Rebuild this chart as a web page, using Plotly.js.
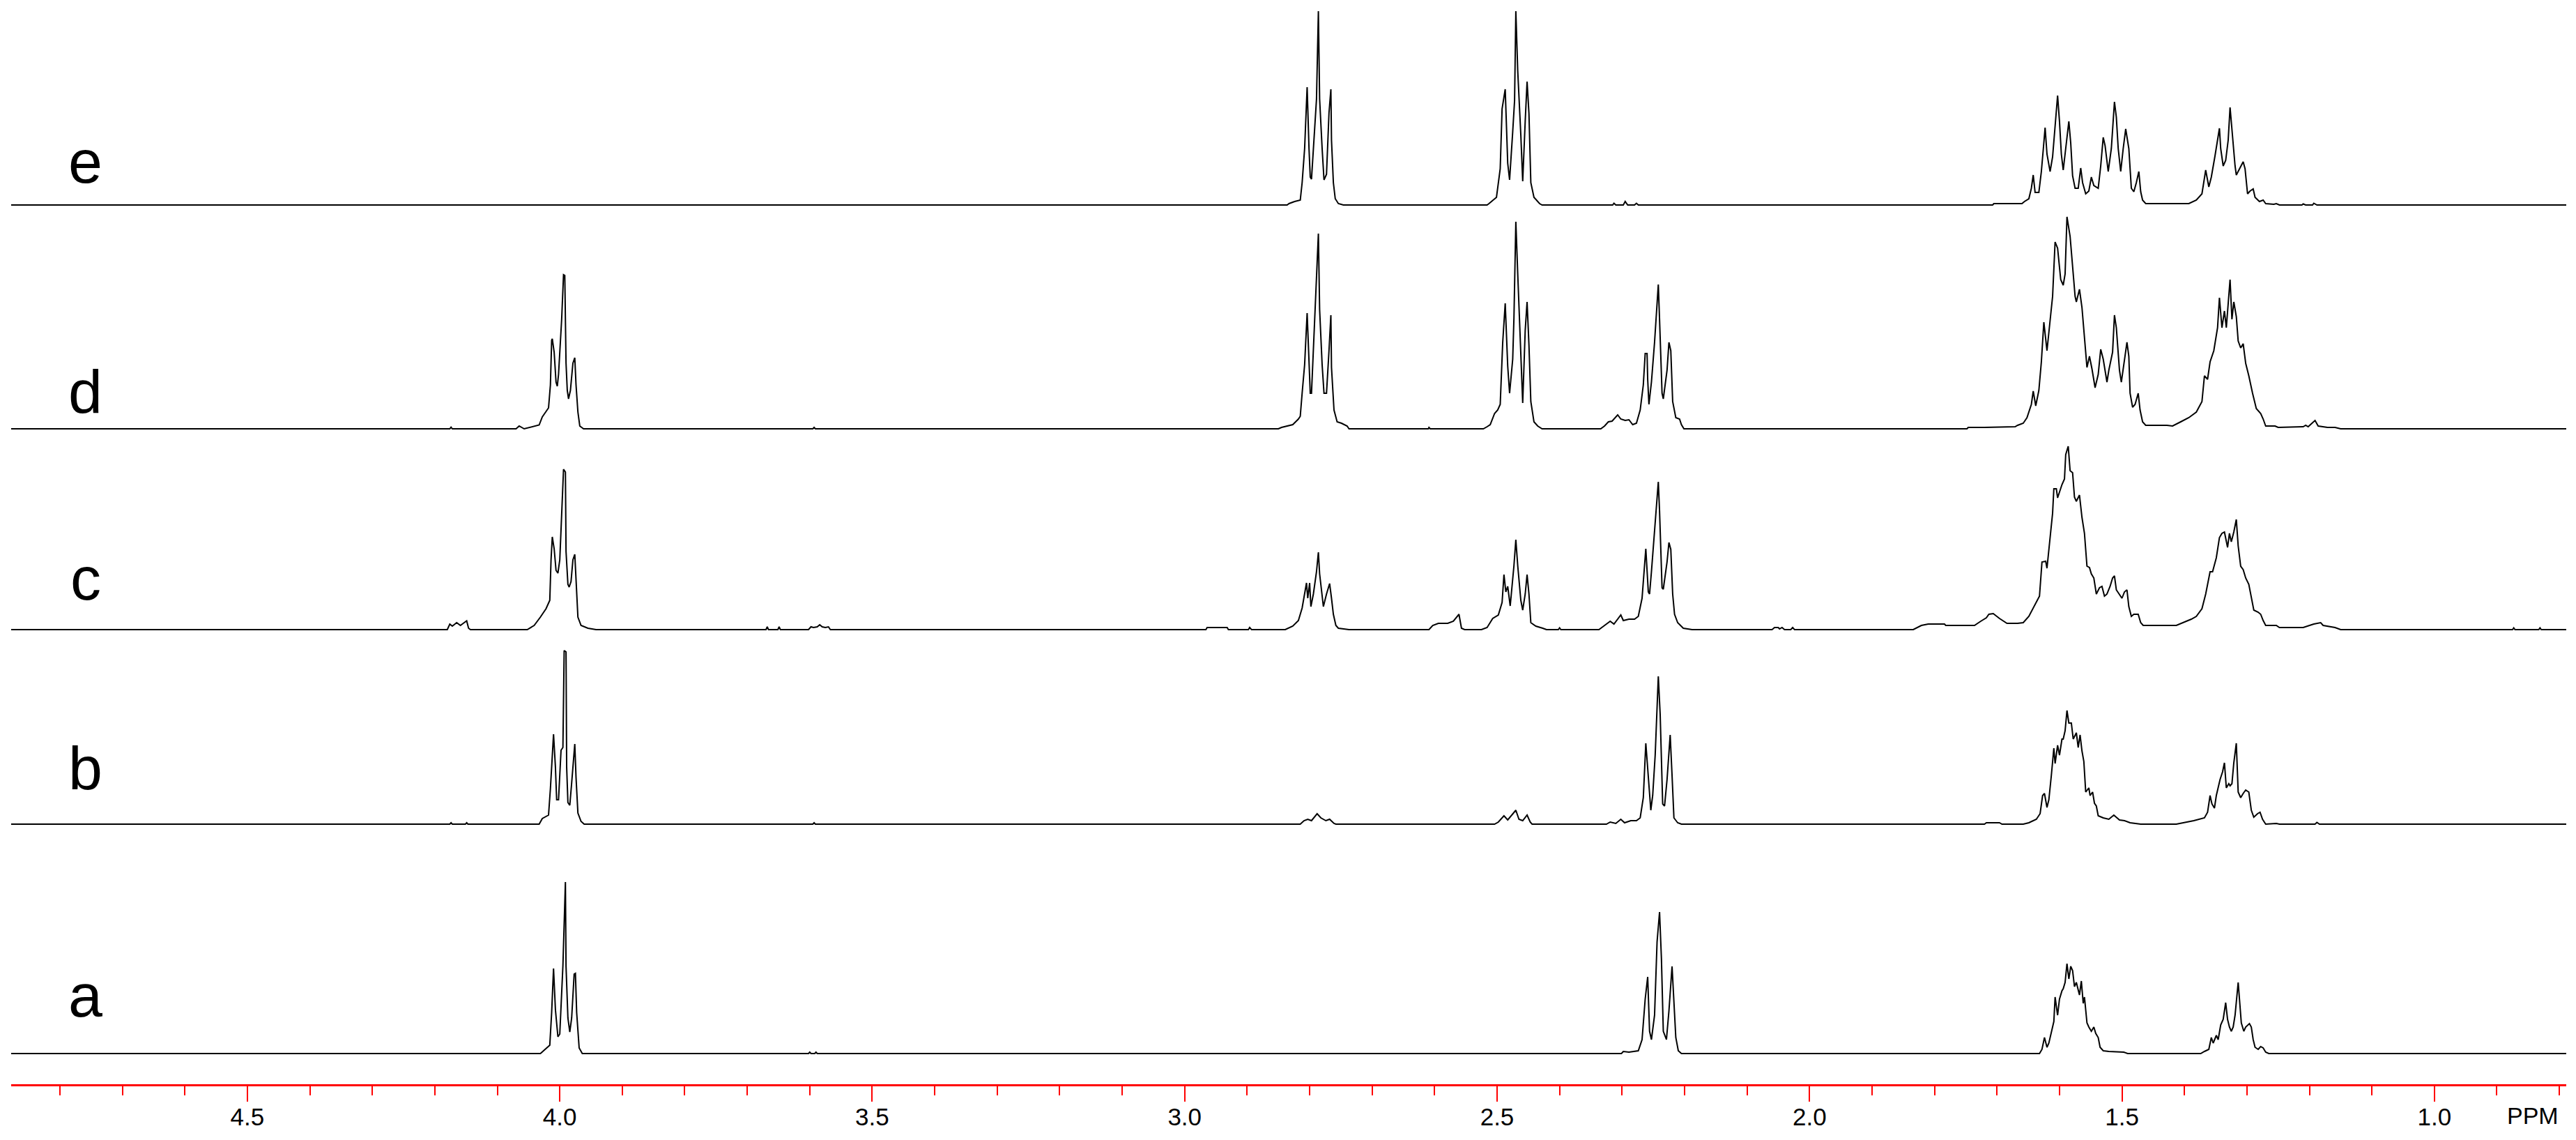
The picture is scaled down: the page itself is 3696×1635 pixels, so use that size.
<!DOCTYPE html>
<html><head><meta charset="utf-8">
<script src="https://cdn.plot.ly/plotly-3.0.1.min.js"></script>
<style>html,body{margin:0;padding:0;background:#fff;} #chart{width:3696px;height:1635px;}</style>
</head><body><div id="chart"></div>
<script>
// [ppm, intensity] pairs
const specE = [[4.878,0],
[2.836,0],[2.833,2],[2.824,5],[2.815,7],[2.812,32],[2.808,81],[2.804,169],[2.801,81],[2.799,40],[2.797,37],[2.794,81],[2.791,130],[2.789,152],[2.786,278],[2.784,152],[2.780,81],[2.777,36],[2.773,44],[2.769,132],[2.766,166],[2.765,93],[2.762,32],[2.759,9],[2.754,2],[2.746,0],
[2.516,0],[2.513,2],[2.501,11],[2.495,52],[2.492,138],[2.487,166],[2.483,60],[2.480,36],[2.475,105],[2.472,150],[2.470,278],[2.467,193],[2.462,100],[2.459,34],[2.455,120],[2.452,177],[2.449,131],[2.446,32],[2.441,11],[2.432,2],[2.428,0],
[2.315,0],[2.313,2.5],[2.310,0],[2.298,0],[2.295,5],[2.291,0],[2.280,0],[2.277,2.5],[2.274,0],
[1.707,0],[1.705,2],[1.660,2],[1.656,5],[1.649,9],[1.645,24],[1.642,43],[1.639,18],[1.633,18],[1.629,48],[1.626,79],[1.623,111],[1.620,73],[1.615,48],[1.611,69],[1.608,102],[1.603,157],[1.600,120],[1.597,73],[1.594,50],[1.591,73],[1.588,102],[1.585,120],[1.582,89],[1.579,42],[1.575,24],[1.570,24],[1.566,53],[1.563,32],[1.558,16],[1.553,20],[1.549,40],[1.545,28],[1.538,24],[1.534,56],[1.530,97],[1.527,85],[1.522,48],[1.517,81],[1.512,148],[1.509,126],[1.506,81],[1.502,48],[1.498,81],[1.494,109],[1.489,81],[1.485,24],[1.481,19],[1.477,32],[1.473,48],[1.470,19],[1.467,7],[1.462,2],
[1.393,2],[1.381,7],[1.372,16],[1.366,50],[1.361,26],[1.357,40],[1.351,71],[1.344,110],[1.342,81],[1.338,56],[1.334,64],[1.330,93],[1.327,140],[1.323,97],[1.319,56],[1.317,43],[1.312,52],[1.306,62],[1.303,52],[1.299,16],[1.295,20],[1.290,23],[1.287,11],[1.280,5],[1.274,7],[1.270,2],[1.257,1],[1.253,2],[1.248,0],
[1.212,0],[1.210,1.5],[1.206,0],[1.195,0],[1.193,2.5],[1.188,0],[0.789,0]];

const specD = [[4.878,0],[4.176,0],[4.174,2.4],[4.172,0],
[4.070,0],[4.065,4],[4.057,0],[4.044,3],[4.033,5.5],[4.028,17],[4.018,30],[4.015,63],[4.013,127],[4.012,129],[4.009,110],[4.006,67],[4.004,61],[4.002,78],[3.999,125],[3.997,157],[3.994,221],[3.992,220],[3.990,94],[3.988,55],[3.986,43],[3.983,55],[3.979,94],[3.976,102],[3.974,63],[3.971,24],[3.968,4],[3.962,0],
[3.595,0],[3.593,2],[3.591,0],
[2.850,0],[2.845,2],[2.827,6],[2.818,14],[2.815,18],[2.812,51],[2.808,92],[2.804,166],[2.801,92],[2.799,51],[2.797,51],[2.794,112],[2.791,171],[2.786,280],[2.784,171],[2.780,92],[2.777,51],[2.773,51],[2.769,112],[2.766,163],[2.765,88],[2.761,27],[2.756,10],[2.749,8],[2.740,4],[2.737,0],
[2.610,0],[2.609,2],[2.607,0],
[2.522,0],[2.516,3],[2.511,6],[2.504,22],[2.499,27],[2.495,35],[2.491,124],[2.487,180],[2.483,90],[2.480,51],[2.475,100],[2.473,160],[2.470,297],[2.467,223],[2.462,100],[2.459,37],[2.455,141],[2.452,182],[2.449,120],[2.446,39],[2.441,10],[2.435,4],[2.428,0],
[2.334,0],[2.328,4],[2.322,10],[2.316,11],[2.307,20],[2.302,14],[2.295,12],[2.289,13],[2.283,6],[2.277,8],[2.271,27],[2.266,63],[2.263,108],[2.260,108],[2.259,71],[2.257,35],[2.253,67],[2.248,124],[2.242,207],[2.240,157],[2.236,51],[2.234,43],[2.228,84],[2.225,124],[2.222,112],[2.219,39],[2.214,16],[2.208,14],[2.205,6],[2.201,0],
[1.748,0],[1.746,2],[1.720,2],[1.671,3],[1.667,5],[1.658,8],[1.652,16],[1.645,35],[1.642,54],[1.638,33],[1.633,55],[1.629,96],[1.625,153],[1.620,112],[1.616,145],[1.611,190],[1.607,268],[1.603,259],[1.598,214],[1.594,206],[1.591,222],[1.588,304],[1.583,276],[1.579,235],[1.575,190],[1.573,182],[1.568,200],[1.564,174],[1.560,133],[1.556,88],[1.552,104],[1.548,86],[1.543,59],[1.538,78],[1.534,114],[1.530,100],[1.524,67],[1.521,84],[1.515,110],[1.512,163],[1.509,145],[1.504,84],[1.501,67],[1.497,92],[1.492,124],[1.489,104],[1.487,51],[1.483,31],[1.479,35],[1.474,51],[1.471,27],[1.467,10],[1.462,5],
[1.428,5],[1.419,4],[1.406,10],[1.393,16],[1.381,24],[1.372,39],[1.368,76],[1.363,71],[1.359,96],[1.353,112],[1.347,145],[1.344,188],[1.340,145],[1.336,169],[1.333,145],[1.327,214],[1.324,157],[1.321,182],[1.317,161],[1.314,126],[1.310,116],[1.306,122],[1.302,94],[1.297,76],[1.291,51],[1.285,29],[1.278,22],[1.274,14],[1.270,4],[1.255,4],[1.250,2],
[1.210,3],[1.206,5],[1.202,3],[1.191,12],[1.186,4],[1.171,2],[1.159,2],[1.150,0],[0.789,0]];

const specC = [[4.878,0],[4.180,0],[4.176,8],[4.172,5],[4.165,10],[4.159,6],[4.153,10],[4.149,12.5],[4.146,2],[4.143,0],
[4.052,0],[4.041,6],[4.031,18],[4.022,30],[4.016,42],[4.014,100],[4.012,133],[4.009,116],[4.006,85],[4.003,81],[4.000,100],[3.997,163],[3.994,230],[3.991,226],[3.990,112],[3.987,65],[3.985,61],[3.982,69],[3.979,100],[3.976,108],[3.974,69],[3.971,18],[3.966,6],[3.955,2],[3.942,0],
[3.670,0],[3.668,4],[3.666,0],[3.651,0],[3.649,4],[3.647,0],
[3.602,0],[3.598,4],[3.594,3],[3.588,4],[3.584,7],[3.580,4],[3.575,3],[3.570,4],[3.567,0],
[2.966,0],[2.964,3],[2.932,3],[2.930,0],[2.898,0],[2.896,3],[2.893,0],
[2.839,0],[2.827,5],[2.818,13],[2.812,31],[2.808,51],[2.805,67],[2.803,45],[2.800,67],[2.798,33],[2.794,51],[2.789,83],[2.786,111],[2.784,80],[2.780,45],[2.778,33],[2.773,51],[2.768,66],[2.765,45],[2.762,22],[2.758,6],[2.754,2],[2.737,0],
[2.609,0],[2.603,6],[2.594,9],[2.579,9],[2.570,12],[2.561,22],[2.557,2],[2.552,0],
[2.525,0],[2.516,3],[2.507,16],[2.498,21],[2.492,39],[2.489,79],[2.486,54],[2.483,62],[2.479,34],[2.473,92],[2.470,129],[2.467,92],[2.462,42],[2.459,28],[2.455,51],[2.452,79],[2.449,51],[2.446,10],[2.438,5],[2.427,2],[2.421,0],[2.402,0],[2.400,2.5],[2.398,0],
[2.337,0],[2.328,6],[2.319,12],[2.313,8],[2.302,21],[2.298,13],[2.289,15],[2.280,15],[2.274,19],[2.268,45],[2.265,86],[2.262,116],[2.258,54],[2.256,51],[2.253,83],[2.248,138],[2.242,212],[2.240,170],[2.236,60],[2.234,58],[2.228,97],[2.225,125],[2.222,115],[2.219,51],[2.216,22],[2.211,10],[2.202,2],[2.188,0],
[2.060,0],[2.056,3],[2.050,3],[2.048,1],[2.044,3],[2.040,0],[2.030,0],[2.027,3],[2.024,0],
[1.834,0],[1.821,6],[1.810,8],[1.784,8],[1.782,6],[1.736,6],[1.726,12],[1.717,17],[1.713,22],[1.706,23],[1.696,16],[1.684,9],[1.667,9],[1.658,10],[1.649,19],[1.641,33],[1.632,48],[1.628,97],[1.622,98],[1.620,88],[1.615,129],[1.611,167],[1.609,202],[1.605,202],[1.603,189],[1.596,208],[1.592,216],[1.590,251],[1.586,263],[1.583,228],[1.579,225],[1.576,190],[1.573,184],[1.568,193],[1.564,161],[1.560,138],[1.556,91],[1.552,89],[1.549,80],[1.545,74],[1.541,51],[1.536,60],[1.532,62],[1.528,48],[1.524,51],[1.519,62],[1.515,74],[1.512,77],[1.509,57],[1.504,51],[1.500,45],[1.496,54],[1.492,57],[1.489,33],[1.485,19],[1.481,22],[1.474,22],[1.470,10],[1.466,6],
[1.413,6],[1.402,10],[1.389,15],[1.381,19],[1.372,30],[1.366,51],[1.359,83],[1.355,83],[1.349,103],[1.344,132],[1.340,138],[1.336,140],[1.331,118],[1.328,138],[1.325,126],[1.321,140],[1.317,158],[1.314,120],[1.310,91],[1.306,86],[1.302,74],[1.297,65],[1.293,45],[1.289,28],[1.282,25],[1.278,22],[1.274,13],[1.270,6],[1.253,6],[1.248,3],
[1.210,3],[1.201,6],[1.193,8],[1.182,10],[1.178,6],[1.159,3],[1.150,0],[0.875,0],[0.873,2.5],[0.871,0],[0.833,0],[0.831,2.5],[0.829,0],[0.789,0]];

const specB = [[4.878,0],[4.176,0],[4.174,2],[4.172,0],[4.151,0],[4.149,2],[4.147,0],
[4.033,0],[4.028,8],[4.018,13],[4.015,51],[4.010,129],[4.007,82],[4.005,35],[4.002,35],[3.998,106],[3.995,110],[3.993,249],[3.990,247],[3.989,82],[3.987,31],[3.984,27],[3.981,59],[3.976,115],[3.974,67],[3.971,16],[3.966,4],[3.961,0],
[3.595,0],[3.593,2],[3.591,0],
[2.815,0],[2.809,5],[2.803,7],[2.797,5],[2.788,15],[2.782,9],[2.774,5],[2.768,7],[2.761,1],[2.758,0],
[2.504,0],[2.498,3],[2.489,12],[2.483,6],[2.480,9],[2.470,20],[2.465,7],[2.459,5],[2.452,13],[2.447,3],[2.444,0],
[2.325,0],[2.319,3],[2.310,1],[2.302,7],[2.296,2],[2.286,5],[2.277,5],[2.271,9],[2.266,38],[2.262,116],[2.259,81],[2.254,20],[2.251,41],[2.247,99],[2.242,212],[2.239,157],[2.235,29],[2.232,26],[2.228,64],[2.223,128],[2.220,70],[2.217,9],[2.211,2],[2.205,0],
[1.720,0],[1.717,2],[1.696,2],[1.692,0],[1.658,0],[1.649,2],[1.637,7],[1.631,15],[1.627,41],[1.624,44],[1.620,24],[1.617,35],[1.613,70],[1.609,109],[1.607,87],[1.603,113],[1.600,99],[1.596,122],[1.594,122],[1.591,134],[1.588,163],[1.585,145],[1.581,145],[1.578,122],[1.573,131],[1.570,110],[1.567,128],[1.564,105],[1.561,90],[1.558,46],[1.553,52],[1.551,41],[1.547,46],[1.544,30],[1.541,26],[1.538,12],[1.530,9],[1.521,7],[1.513,13],[1.504,6],[1.496,5],[1.487,2],[1.470,0],
[1.413,0],[1.385,5],[1.368,9],[1.363,17],[1.359,41],[1.356,29],[1.352,23],[1.349,41],[1.343,64],[1.339,75],[1.336,88],[1.333,52],[1.329,58],[1.327,55],[1.324,58],[1.321,88],[1.317,116],[1.314,46],[1.310,38],[1.306,44],[1.302,49],[1.297,46],[1.293,20],[1.289,10],[1.283,15],[1.279,17],[1.275,7],[1.270,0],[1.253,1],[1.248,0],
[1.191,0],[1.188,2.5],[1.184,0],[0.789,0]];

const specA = [[4.878,0],
[4.031,0],[4.026,4],[4.016,12],[4.013,59],[4.010,122],[4.007,63],[4.003,24],[4.000,28],[3.997,82],[3.995,126],[3.991,246],[3.990,125],[3.987,51],[3.984,31],[3.981,51],[3.977,114],[3.975,115],[3.973,59],[3.969,8],[3.964,0],
[3.602,0],[3.600,2],[3.598,0],[3.592,0],[3.590,2],[3.588,0],
[2.301,0],[2.298,3],[2.289,2],[2.280,3],[2.274,4],[2.268,20],[2.263,78],[2.259,110],[2.256,32],[2.253,20],[2.248,55],[2.244,160],[2.240,203],[2.237,136],[2.234,32],[2.229,20],[2.225,61],[2.220,125],[2.217,67],[2.214,23],[2.210,4],[2.205,0],
[1.632,0],[1.628,6],[1.624,23],[1.620,9],[1.617,15],[1.613,32],[1.609,46],[1.607,81],[1.603,55],[1.600,78],[1.596,90],[1.594,93],[1.591,102],[1.588,129],[1.585,107],[1.582,125],[1.579,119],[1.576,96],[1.573,102],[1.568,84],[1.565,104],[1.562,72],[1.560,81],[1.556,44],[1.553,38],[1.549,32],[1.545,38],[1.542,29],[1.538,23],[1.535,9],[1.530,4],[1.521,3],[1.497,2],[1.491,0],
[1.374,0],[1.368,3],[1.361,6],[1.357,23],[1.354,15],[1.349,26],[1.346,20],[1.342,41],[1.338,49],[1.334,73],[1.331,49],[1.328,38],[1.325,32],[1.322,38],[1.319,55],[1.314,102],[1.311,67],[1.309,44],[1.305,32],[1.302,38],[1.296,43],[1.293,38],[1.290,20],[1.287,9],[1.282,6],[1.278,10],[1.274,8],[1.270,2],[1.265,0],[0.789,0]];

const sampleLabels = ['e','d','c','b','a'];
const majorTicks = [4.5,4.0,3.5,3.0,2.5,2.0,1.5,1.0];
const axisUnit = 'PPM';

// layout (stack offsets in plot units)
const spectra = [specE, specD, specC, specB, specA];
const stackOffsets = [1261, 940, 652, 373, 44];
const labelY = [1324, 994, 726, 454, 128];

const traces = spectra.map((s, i) => ({
  type: 'scatter', mode: 'lines',
  x: s.map(p => p[0]),
  y: s.map(p => p[1] + stackOffsets[i]),
  line: {color: '#000', width: 2},
  hoverinfo: 'skip', showlegend: false
}));

const annotations = sampleLabels.map((t, i) => ({
  text: t, x: 4.759, y: labelY[i], xref: 'x', yref: 'y',
  showarrow: false, xanchor: 'center', yanchor: 'middle',
  font: {family: 'Liberation Sans, Arial, sans-serif', size: 88, color: '#000'}
}));
annotations.push({
  text: axisUnit, x: 0.843, y: -0.029, xref: 'x', yref: 'paper',
  showarrow: false, xanchor: 'center', yanchor: 'middle',
  font: {family: 'Liberation Sans, Arial, sans-serif', size: 34, color: '#000'}
});

const layout = {
  width: 3696, height: 1635,
  margin: {l: 16, r: 14, t: 0, b: 80, pad: 0},
  paper_bgcolor: '#fff', plot_bgcolor: '#fff',
  showlegend: false,
  xaxis: {
    range: [4.878, 0.789], showgrid: false, zeroline: false,
    showline: true, linecolor: '#ff0000', linewidth: 3,
    ticks: 'outside', ticklen: 22, tickwidth: 2, tickcolor: '#ff0000',
    tickmode: 'array', tickvals: majorTicks, ticktext: majorTicks.map(v => v.toFixed(1)),
    ticklabelstandoff: -8,
    tickfont: {family: 'Liberation Sans, Arial, sans-serif', size: 35, color: '#000'},
    minor: {tickmode: 'linear', tick0: 0, dtick: 0.1, ticks: 'outside', ticklen: 13, tickwidth: 2, tickcolor: '#ff0000', showgrid: false},
    fixedrange: true
  },
  yaxis: {visible: false, range: [0, 1555], fixedrange: true, showgrid: false, zeroline: false},
  annotations: annotations
};

Plotly.newPlot('chart', traces, layout, {staticPlot: true, displayModeBar: false});
</script>
</body></html>
